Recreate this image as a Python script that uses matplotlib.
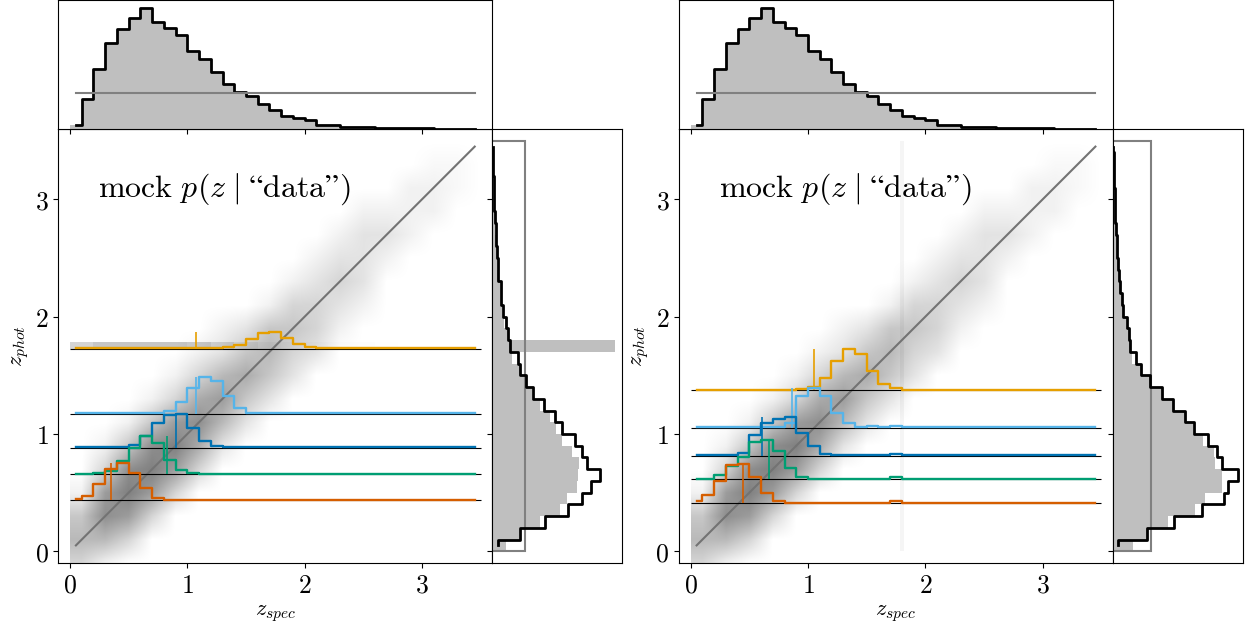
import numpy as np
import matplotlib
matplotlib.use('Agg')
import matplotlib.pyplot as plt

plt.rcParams['mathtext.fontset'] = 'cm'
plt.rcParams['font.family'] = 'serif'

# redshift bins (width 0.1, 0 -> 3.5)
edges = np.round(np.arange(0, 3.51, 0.1), 2)
centers = 0.5 * (edges[1:] + edges[:-1])

# true n(z_spec), same in both panels (arbitrary units)
n_spec = [3.7, 30, 60, 85.3, 99.3, 111, 121, 107, 100.3, 93.7, 77.7, 70, 56.7, 45.3,
          36.7, 32.7, 25.3, 18.7, 13.3, 11, 9.3, 4.3, 4.3, 1.7, 2.3, 1.7, 1, 1, 0.7,
          0.5, 0.5, 0.4, 0.3, 0.3, 0.3]
flat_top = 36

# z_phot histograms (gray) and estimated n(z) (black)
n_phot_L = [14, 27, 47.7, 67.7, 74.3, 84.3, 86, 86.7, 80, 70, 64, 57.7, 47.7, 39.3,
            32.7, 27.7, 19.3, 122.7, 16, 12, 10, 8, 7.5, 5.5, 5, 4.3, 3.5, 3, 2.5, 2,
            1.5, 1.2, 1, 0.8, 0.5]
n_est_L = [5.3, 27.7, 52.7, 75.3, 89.3, 98.7, 107.7, 94.3, 89.3, 82.7, 69.3, 62.7, 52,
           41, 33.3, 27.7, 25.3, 17.7, 16, 13.3, 11, 8.7, 8.3, 6, 5.3, 4.7, 3.7, 3.3,
           2.7, 2, 1.7, 1.3, 1, 1, 0.7]
flat_L = 32.7

n_phot_R = [20.3, 33.7, 55.3, 82, 92, 108.7, 108.7, 102, 101, 90, 80, 72, 60, 48.7, 37,
            28, 18.7, 17, 16, 13, 10, 8.5, 7, 6, 5, 4, 3.5, 3, 2.3, 2, 1.5, 1.2, 1,
            0.7, 0.3]
n_est_R = [5.3, 33.7, 61.3, 88.7, 111.3, 115.3, 124.7, 109.3, 103.7, 94.7, 81.3, 72,
           60.3, 48.7, 37, 28, 22.7, 17, 16, 13.7, 10.3, 8.7, 7, 6.3, 5.3, 4.3, 3.7, 3,
           2.3, 2, 1.7, 1.3, 1, 0.7, 0.3]
flat_R = 37.7

colors = ['#E69F00', '#56B4E9', '#0072B2', '#009E73', '#D55E00']

# example p(z | data): baseline z_phot, true z_spec, pdf values (floor, start bin, values)
base_L = [1.722, 1.171, 0.880, 0.657, 0.434]
ztrue_L = [1.074, 1.07, 0.90, 0.824, 0.347]
pdf_L = [
    (0.009, 13, [0.02, 0.037, 0.086, 0.143, 0.151, 0.10, 0.043, 0.017, 0.011]),
    (0.005, 7, [0.006, 0.023, 0.10, 0.223, 0.317, 0.28, 0.151, 0.051, 0.009]),
    (0.005, 5, [0.023, 0.10, 0.214, 0.286, 0.291, 0.171, 0.057, 0.017, 0.011]),
    (0.003, 2, [0.014, 0.029, 0.109, 0.223, 0.323, 0.266, 0.123, 0.037, 0.009]),
    (0.003, 0, [0.011, 0.04, 0.137, 0.266, 0.317, 0.231, 0.103, 0.017, 0.006]),
]

base_R = [1.374, 1.051, 0.814, 0.614, 0.409]
ztrue_R = [1.051, 0.863, 0.608, 0.670, 0.443]
pdf_R = [
    (0.005, 9, [0.006, 0.029, 0.106, 0.249, 0.349, 0.306, 0.163, 0.054, 0.02]),
    (0.005, 7, [0.01, 0.04, 0.27, 0.343, 0.27, 0.13, 0.04, 0.01, 0.015]),
    (0.005, 3, [0.009, 0.023, 0.18, 0.28, 0.314, 0.331, 0.194, 0.08, 0.017]),
    (0.005, 1, [0.006, 0.037, 0.109, 0.186, 0.314, 0.337, 0.237, 0.094, 0.023]),
    (0.005, 0, [0.02, 0.071, 0.186, 0.323, 0.334, 0.22, 0.086, 0.02, 0.006]),
]
bump_R = 0.017  # small bump in bin 1.7-1.8 on the right

# scatter cloud read as darkness (0-9) on a 0.2 grid; per z_spec column: (first z_phot row, values)
# rows: z_phot from -0.2 upwards in steps of 0.2
cloud_L = [(0, [3, 5, 4, 1]), (0, [1, 5, 8, 7, 3, 1]), (1, [3, 7, 9, 8, 4, 1]),
           (2, [3, 7, 9, 8, 4, 1]), (3, [3, 7, 9, 7, 3, 1]), (4, [3, 6, 8, 6, 3, 1]),
           (5, [2, 5, 7, 5, 2, 1]), (6, [2, 4, 6, 4, 2]), (7, [2, 4, 5, 4, 1]),
           (8, [2, 3, 4, 3, 1]), (9, [2, 3, 3, 2, 1]), (10, [1, 2, 3, 2, 1]),
           (11, [1, 2, 2, 2, 1]), (13, [1, 2, 1]), (14, [1, 1, 1]), (15, [1, 1, 0.5]),
           (16, [0.5, 0.5]), (0, [])]
cloud_R = [(0, [3, 5, 4, 1]), (0, [1, 5, 8, 7, 3, 1]), (1, [3, 7, 9, 8, 4, 1]),
           (2, [3, 7, 9, 8, 4, 1]), (3, [3, 7, 9, 7, 3, 1]), (4, [3, 6, 8, 6, 3, 1]),
           (5, [2, 5, 7, 5, 2, 1]), (6, [2, 4, 6, 4, 2]), (7, [2, 4, 5, 4, 1]),
           (8, [2, 3, 4, 3, 1]), (9, [2, 3, 3, 2, 1]), (10, [1, 2, 3, 2, 1]),
           (11, [1, 2, 2, 2, 1]), (13, [1, 2, 1]), (14, [1, 1, 1]), (15, [1, 1, 0.5]),
           (16, [0.5, 0.5]), (0, [])]

# left: catastrophic outliers piled up at z_phot ~ 1.72-1.79, darkness per 0.2 z_spec bin
streak_L = [3, 4, 4, 4, 4, 3.5, 2.5, 1.2, 0.5, 0.3, 0.3, 0.2, 0.2, 0.1]
streak_L_z = (1.725, 1.785)
# right: outliers at z_spec ~ 1.8 spread over all z_phot
streak_R_z = 1.8
streak_R_dark = 0.7

amax = 0.5


def cloud_image(cols):
    img = np.zeros((19, 18))
    for j, (r0, vals) in enumerate(cols):
        for k, v in enumerate(vals):
            img[r0 + k, j] = v
    rgba = np.zeros((19, 18, 4))
    rgba[..., 3] = img / 9.0 * amax
    return rgba


def vstep(vals):
    ys = np.concatenate([[centers[0]], np.repeat(edges[1:-1], 2), [centers[-1]]])
    xs = np.repeat(vals, 2)
    return xs, ys


def panel(x0, cloud, pdfs, bases, ztrue, n_phot, n_est, flat, streak):
    ax = fig.add_axes([x0, 0.1035, 0.34665, 0.69108])
    axt = fig.add_axes([x0, 0.79459, 0.34665, 0.20541], sharex=ax)
    axr = fig.add_axes([x0 + 0.34665, 0.1035, 0.10383, 0.69108], sharey=ax)

    ax.imshow(cloud_image(cloud), extent=(0, 3.6, -0.2, 3.6), origin='lower',
              interpolation='bilinear', aspect='auto', zorder=0)
    streak(ax)
    ax.plot(centers, centers, color='0.45', lw=1.5, zorder=1)

    for c, b, zt, (floor, k0, vals) in zip(colors, bases, ztrue, pdfs):
        p = np.full(len(centers), floor)
        p[k0:k0 + len(vals)] = vals
        if pdfs is pdf_R:
            p[17] = max(p[17], bump_R)
        ax.hlines(b, 0, 3.5, color='k', lw=0.8, zorder=2)
        ax.step(centers, b + p, where='mid', color=c, lw=1.7, zorder=3)
        ax.vlines(zt, b, b + p.max(), color=c, lw=1.2, zorder=3)

    ax.set_xlim(-0.1, 3.6)
    ax.set_ylim(-0.1, 3.6)
    ax.set_xticks([0, 1, 2, 3])
    ax.set_xticklabels(['$0$', '$1$', '$2$', '$3$'])
    ax.set_yticks([0, 1, 2, 3])
    ax.set_yticklabels(['$0$', '$1$', '$2$', '$3$'])
    ax.tick_params(labelsize=18.5)
    ax.set_xlabel(r'$z_{spec}$', fontsize=16, labelpad=3)
    ax.set_ylabel(r'$z_{phot}$', fontsize=16, labelpad=3)
    ax.text(0.24, 3.02, r'$\mathrm{mock}\ p(z\;|\;\mathrm{“data”})$', fontsize=23,
            ha='left', va='baseline')

    # top: n(z_spec)
    axt.stairs(n_spec, edges, fill=True, color='0.75')
    axt.step(centers, n_spec, where='mid', color='k', lw=2)
    axt.plot(centers, np.full(len(centers), flat_top), color='0.5', lw=1.5)
    axt.set_ylim(0, 128.5)
    axt.set_yticks([])
    axt.tick_params(labelbottom=False)

    # right: n(z_phot)
    axr.stairs(n_phot, edges, orientation='horizontal', fill=True, color='0.75')
    xs, ys = vstep(n_est)
    axr.plot(xs, ys, color='k', lw=2)
    axr.stairs(np.full(len(centers), flat), edges, orientation='horizontal',
               baseline=0, color='0.5', lw=1.5)
    axr.set_xlim(0, 130)
    axr.set_xticks([])
    axr.tick_params(labelleft=False)


def streak_left(ax):
    cols = [(0, 0, 0, v / 9.0 * amax) for v in streak_L]
    xc = np.arange(len(streak_L)) * 0.2 + 0.1
    ax.bar(xc, streak_L_z[1] - streak_L_z[0], width=0.2, bottom=streak_L_z[0],
           color=cols, lw=0, zorder=0.5)


def streak_right(ax):
    ax.fill_betweenx([0, 3.5], streak_R_z - 0.015, streak_R_z + 0.015, color='k',
                     alpha=streak_R_dark / 9.0 * amax, lw=0, zorder=0.5)


fig = plt.figure(figsize=(12.52, 6.28), dpi=100)
panel(0.04657, cloud_L, pdf_L, base_L, ztrue_L, n_phot_L, n_est_L, flat_L, streak_left)
panel(0.54233, cloud_R, pdf_R, base_R, ztrue_R, n_phot_R, n_est_R, flat_R, streak_right)

fig.savefig('out.png', dpi=100)
